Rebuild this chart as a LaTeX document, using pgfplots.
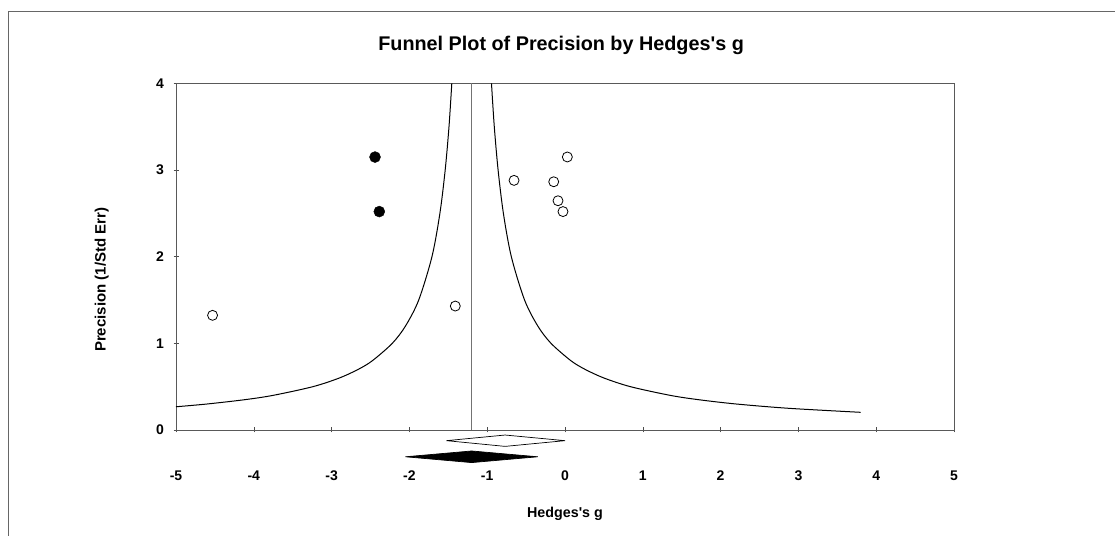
\documentclass[border=0pt]{standalone}
\usepackage{fontspec}
\setmainfont{Liberation Sans}[Ligatures=TeXOff]
\usepackage{pgfplots}
\pgfplotsset{compat=1.18}

\begin{document}
\begin{tikzpicture}[x=1pt,y=1pt]
\useasboundingbox (0,0) rectangle (1115,535);
% outer frame (left and top edges only are visible)
\draw[black!60, line width=0.9pt] (8.3,-2) -- (8.3,523.5) -- (1120,523.5);

\begin{axis}[
    scale only axis,
    width=778pt, height=346.7pt,
    at={(176pt,105pt)}, anchor=south west,
    xmin=-5, xmax=5, ymin=0, ymax=4,
    xtick={-5,...,5}, ytick={0,1,2,3,4},
    tick pos=left, tick align=center,
    major tick length=5pt,
    tick style={black!70, line width=0.6pt},
    axis line style={black!65, line width=0.9pt},
    clip=false,
    /pgf/number format/assume math mode=true,
    ticklabel style={font=\fontsize{14}{16}\selectfont\bfseries},
    xticklabel style={anchor=center, yshift=-43pt, text height=10pt, text depth=0pt},
    yticklabel style={anchor=east, xshift=-6pt},
    xlabel={Hedges's g},
    ylabel={Precision (1/Std Err)},
    xlabel style={at={(axis description cs:0.5,-0.2423)}, anchor=center,
                  font=\fontsize{14.3}{16}\selectfont\bfseries},
    ylabel style={at={(axis description cs:-0.0955,0.433)}, anchor=center,
                  font=\fontsize{15}{17}\selectfont\bfseries},
    title={Funnel Plot of Precision by Hedges's g},
    title style={at={(axis description cs:0.495,1.091)}, anchor=center,
                 font=\fontsize{19.8}{22}\selectfont\bfseries},
]
% combined effect line
\addplot[black!55, line width=0.9pt] coordinates {(-1.2,0) (-1.2,4)};

% funnel, left branch
\addplot[black, line width=1pt, smooth] coordinates {
  (-5.0,0.268) (-4.6,0.30) (-4.114,0.35) (-3.75,0.40) (-3.24,0.50)
  (-2.9,0.60) (-2.657,0.70) (-2.475,0.80) (-2.22,1.0) (-2.05,1.2)
  (-1.88,1.5) (-1.71,2.0) (-1.608,2.5) (-1.54,3.0) (-1.491,3.5) (-1.455,4.0)
};
% funnel, right branch
\addplot[black, line width=1pt, smooth] coordinates {
  (-0.945,4.0) (-0.909,3.5) (-0.86,3.0) (-0.792,2.5) (-0.69,2.0)
  (-0.52,1.5) (-0.35,1.2) (-0.18,1.0) (0.075,0.80) (0.257,0.70)
  (0.50,0.60) (0.84,0.50) (1.35,0.40) (1.714,0.35) (2.2,0.30)
  (2.88,0.25) (3.8,0.204)
};

% observed studies
\addplot[only marks, mark=*, mark size=5pt,
         mark options={draw=black, fill=white, line width=0.8pt}] coordinates {
  (-4.53,1.323) (-1.41,1.43) (-0.655,2.88) (-0.145,2.864)
  (-0.09,2.645) (-0.026,2.52) (0.03,3.15)
};
% imputed studies
\addplot[only marks, mark=*, mark size=5.5pt,
         mark options={draw=black, fill=black}] coordinates {
  (-2.442,3.149) (-2.387,2.52)
};

% observed summary diamond
\addplot[draw=black, fill=white, line width=0.7pt] coordinates {
  (-1.523,-0.123) (-0.77,-0.058) (0.0,-0.123) (-0.77,-0.189) (-1.523,-0.123)
} -- cycle;
% adjusted summary diamond
\addplot[draw=black, fill=black, line width=0.7pt] coordinates {
  (-2.05,-0.309) (-1.2,-0.242) (-0.35,-0.309) (-1.2,-0.376) (-2.05,-0.309)
} -- cycle;
\end{axis}
\end{tikzpicture}
\end{document}
